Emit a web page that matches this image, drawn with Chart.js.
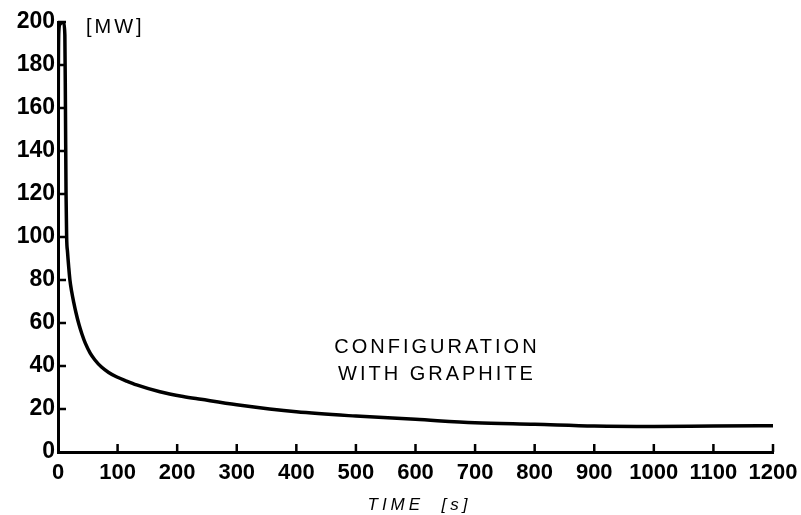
<!DOCTYPE html>
<html>
<head>
<meta charset="utf-8">
<script src="https://cdn.jsdelivr.net/npm/chart.js@4/dist/chart.umd.min.js"></script>
<style>
  html, body { margin: 0; padding: 0; background: #fff; }
  #wrap { width: 801px; height: 515px; }
</style>
</head>
<body>
<div id="wrap"><canvas id="powerChart" width="801" height="515"></canvas></div>
<script>
// decay power after shutdown, configuration with graphite
const timeSec = [0, 0.5, 1.5, 3.5, 6.5, 9.5, 11.5, 12.5, 13.5, 14.5, 16, 18, 20, 23, 26.5, 30, 35, 40, 46, 54, 62, 73, 85, 98, 115, 132, 171, 210, 240, 300, 400, 500, 600, 700, 800, 900, 1000, 1100, 1200];
const powerMW = [100, 170, 196, 199, 200, 199.5, 194, 160, 120, 100, 93, 86, 80, 74.5, 69.5, 65, 59.5, 55, 50.5, 46, 42.8, 39.5, 37, 35, 33, 31.2, 28, 25.8, 24.5, 22, 18.7, 16.7, 15.2, 13.6, 12.9, 12.1, 11.9, 12.1, 12.2];

const xTicks = [0, 100, 200, 300, 400, 500, 600, 700, 800, 900, 1000, 1100, 1200];
const yTicks = [0, 20, 40, 60, 80, 100, 120, 140, 160, 180, 200];

const labelLines = ['CONFIGURATION', 'WITH GRAPHITE'];
const unitLabel = '[MW]';
const xTitle = 'TIME  [s]';

const FONT = "'Liberation Sans', Arial, sans-serif";

// inward tick marks + free text
const decorations = {
    id: 'decorations',
    afterDraw(chart) {
        const { ctx, chartArea } = chart;
        const xs = chart.scales.x;
        const ys = chart.scales.y;
        ctx.save();
        ctx.strokeStyle = '#000';
        ctx.lineWidth = 2.5;
        ctx.beginPath();
        xTicks.forEach((t) => {
            if (t === 0) return;
            const px = xs.getPixelForValue(t);
            ctx.moveTo(px, chartArea.bottom);
            ctx.lineTo(px, chartArea.bottom - 8);
        });
        yTicks.forEach((t) => {
            if (t === 0) return;
            const py = ys.getPixelForValue(t);
            ctx.moveTo(chartArea.left, py);
            ctx.lineTo(chartArea.left + 8, py);
        });
        ctx.stroke();

        ctx.fillStyle = '#000';
        ctx.textBaseline = 'middle';

        ctx.font = '20px ' + FONT;
        ctx.letterSpacing = '3px';
        ctx.textAlign = 'left';
        ctx.fillText(unitLabel, chartArea.left + 28, 27);

        ctx.textAlign = 'center';
        const cx = xs.getPixelForValue(636);
        ctx.fillText(labelLines[0], cx, ys.getPixelForValue(48.5));
        ctx.fillText(labelLines[1], cx, ys.getPixelForValue(36));

        ctx.font = 'italic 17px ' + FONT;
        ctx.letterSpacing = '4px';
        ctx.fillText(xTitle, (chartArea.left + chartArea.right) / 2 + 4, 505);
        ctx.restore();
    },
};

const ctx = document.getElementById('powerChart').getContext('2d');

const config = {
    type: 'line',
    data: {
        datasets: [
            {
                label: 'Power',
                data: timeSec.map((t, i) => ({ x: t, y: powerMW[i] })),
                borderColor: '#000',
                borderWidth: 3.5,
                pointRadius: 0,
                fill: false,
                cubicInterpolationMode: 'monotone',
            },
        ],
    },
    options: {
        responsive: false,
        animation: false,
        layout: {
            padding: { left: 4, right: 28, top: 22, bottom: 0 },
        },
        plugins: {
            legend: { display: false },
            tooltip: { enabled: false },
        },
        scales: {
            x: {
                type: 'linear',
                min: 0,
                max: 1200,
                afterBuildTicks: (axis) => {
                    axis.ticks = xTicks.map((v) => ({ value: v }));
                },
                afterFit: (axis) => {
                    axis.height = 63;
                    axis.paddingLeft = 0;
                    axis.paddingRight = 0;
                },
                grid: { display: false, drawTicks: false, tickLength: 0 },
                border: { display: true, color: '#000', width: 3 },
                ticks: {
                    color: '#000',
                    padding: 8,
                    maxRotation: 0,
                    autoSkip: false,
                    font: { family: FONT, size: 22, weight: 'bold' },
                    callback: (v) => String(v),
                },
            },
            y: {
                type: 'linear',
                min: 0,
                max: 200,
                afterBuildTicks: (axis) => {
                    axis.ticks = yTicks.map((v) => ({ value: v }));
                },
                afterFit: (axis) => {
                    axis.width = 54;
                    axis.paddingTop = 0;
                    axis.paddingBottom = 0;
                },
                grid: { display: false, drawTicks: false, tickLength: 0 },
                border: { display: true, color: '#000', width: 3 },
                ticks: {
                    color: '#000',
                    padding: 3,
                    autoSkip: false,
                    font: { family: FONT, size: 23, weight: 'bold' },
                    callback: (v) => String(v),
                },
            },
        },
    },
    plugins: [decorations],
};

var powerChart = new Chart(ctx, config);
</script>
</body>
</html>
